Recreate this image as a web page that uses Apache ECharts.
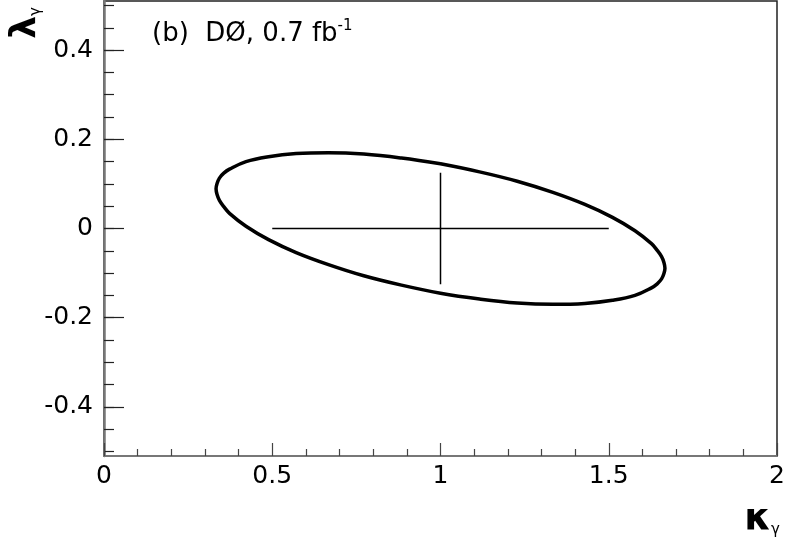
<!DOCTYPE html>
<html>
<head>
<meta charset="utf-8">
<script src="https://cdn.jsdelivr.net/npm/echarts@6/dist/echarts.min.js"></script>
<style>
  html, body { margin: 0; padding: 0; background: #fff; }
  #main { width: 797px; height: 541px; }
</style>
</head>
<body>
<div id="main"></div>
<script>
// -- data --
let xTicks = [0, 0.5, 1, 1.5, 2];
let yTicks = [-0.4, -0.2, 0, 0.2, 0.4];
let yMinorTicks = [-0.5, -0.45, -0.4, -0.35, -0.3, -0.25, -0.2, -0.15, -0.1, -0.05, 0,
                   0.05, 0.1, 0.15, 0.2, 0.25, 0.3, 0.35, 0.4, 0.45, 0.5];

// contour (kappa, lambda), starting from the top
let contour = [
  [1.000, 0.145], [0.884, 0.158], [0.772, 0.167], [0.667, 0.170], [0.571, 0.168],
  [0.489, 0.161], [0.422, 0.150], [0.373, 0.133], [0.356, 0.124], [0.343, 0.113],
  [0.336, 0.101], [0.333, 0.089], [0.336, 0.076], [0.343, 0.063], [0.356, 0.049],
  [0.373, 0.034], [0.422, 0.005], [0.489, -0.025], [0.571, -0.054], [0.667, -0.081],
  [0.772, -0.106], [0.884, -0.127], [1.000, -0.145], [1.116, -0.158], [1.228, -0.167],
  [1.334, -0.170], [1.429, -0.168], [1.511, -0.161], [1.578, -0.150], [1.627, -0.133],
  [1.644, -0.124], [1.657, -0.113], [1.664, -0.101], [1.667, -0.089], [1.664, -0.076],
  [1.657, -0.063], [1.644, -0.049], [1.627, -0.034], [1.578, -0.005], [1.511, 0.025],
  [1.429, 0.054], [1.334, 0.081], [1.228, 0.106], [1.116, 0.127], [1.000, 0.145]
];

// measured point with error bars
let errX = [[0.5, 0], [1.5, 0]];
let errY = [[1, -0.125], [1, 0.125]];

let labelFont = 'DejaVu Sans';

let option = {
  animation: false,
  backgroundColor: '#fff',
  grid: {
    left: 104, right: 20, top: 1, bottom: 85,
    show: true, borderColor: '#222', borderWidth: 1.5
  },
  xAxis: {
    type: 'value',
    min: 0, max: 2, interval: 0.5,
    axisLine: {onZero: false, lineStyle: {color: '#777', width: 2}},
    axisTick: {inside: true, length: 13, lineStyle: {color: '#444', width: 1.2}},
    minorTick: {show: true, splitNumber: 5, length: 7, lineStyle: {color: '#444', width: 1.2}},
    splitLine: {show: false},
    axisLabel: {
      margin: 8, color: '#000', fontSize: 25, fontFamily: labelFont,
      customValues: xTicks,
      formatter: function (v) { return String(v); }
    }
  },
  yAxis: [{
    type: 'value',
    min: -0.51, max: 0.51,
    axisLine: {onZero: false, lineStyle: {color: '#777', width: 2.5}},
    axisTick: {inside: true, length: 20, customValues: yTicks, lineStyle: {color: '#222', width: 1.2}},
    splitLine: {show: false},
    axisLabel: {
      margin: 11, color: '#000', fontSize: 25, fontFamily: labelFont,
      customValues: yTicks,
      formatter: function (v) { return String(v); }
    }
  }, {
    type: 'value',
    min: -0.51, max: 0.51,
    position: 'left',
    axisLine: {show: false},
    axisTick: {show: true, inside: true, length: 10, customValues: yMinorTicks, lineStyle: {color: '#222', width: 1.2}},
    splitLine: {show: false},
    axisLabel: {show: false}
  }],
  series: [{
    type: 'line',
    data: contour,
    smooth: 0.4,
    symbol: 'none',
    lineStyle: {color: '#000', width: 3.5, join: 'round'}
  }, {
    type: 'line',
    data: errX,
    symbol: 'none',
    lineStyle: {color: '#000', width: 1.5}
  }, {
    type: 'line',
    data: errY,
    symbol: 'none',
    lineStyle: {color: '#000', width: 1.5}
  }],
  graphic: [{
    type: 'text',
    x: 152, y: 19,
    style: {
      text: '{a|(b)  DØ, 0.7 fb}{s|-1}',
      rich: {
        a: {fontSize: 26, fontFamily: labelFont, fill: '#000', lineHeight: 31},
        s: {fontSize: 15, fontFamily: labelFont, fill: '#000', verticalAlign: 'top', lineHeight: 31}
      }
    }
  }, {
    // y title, rotated like the original
    type: 'text',
    x: 44, y: 7,
    rotation: Math.PI / 2,
    style: {
      text: '{l|λ}{g|γ}',
      align: 'right', textAlign: 'right',
      verticalAlign: 'bottom', textVerticalAlign: 'bottom',
      rich: {
        l: {fontSize: 36, fontFamily: 'DejaVu Sans', fontWeight: 'bold', fill: '#000'},
        g: {fontSize: 15, fontFamily: 'DejaVu Sans', fill: '#000', verticalAlign: 'bottom'}
      }
    }
  }, {
    type: 'text',
    x: 780, y: 500,
    style: {
      text: '{k|κ}{g|γ}',
      align: 'right', textAlign: 'right',
      rich: {
        k: {fontSize: 38, fontFamily: 'DejaVu Sans', fontWeight: 'bold', fill: '#000'},
        g: {fontSize: 15, fontFamily: 'DejaVu Sans', fill: '#000', verticalAlign: 'bottom'}
      }
    }
  }]
};

let myChart = echarts.init(document.getElementById('main'));
myChart.setOption(option);
</script>
</body>
</html>
